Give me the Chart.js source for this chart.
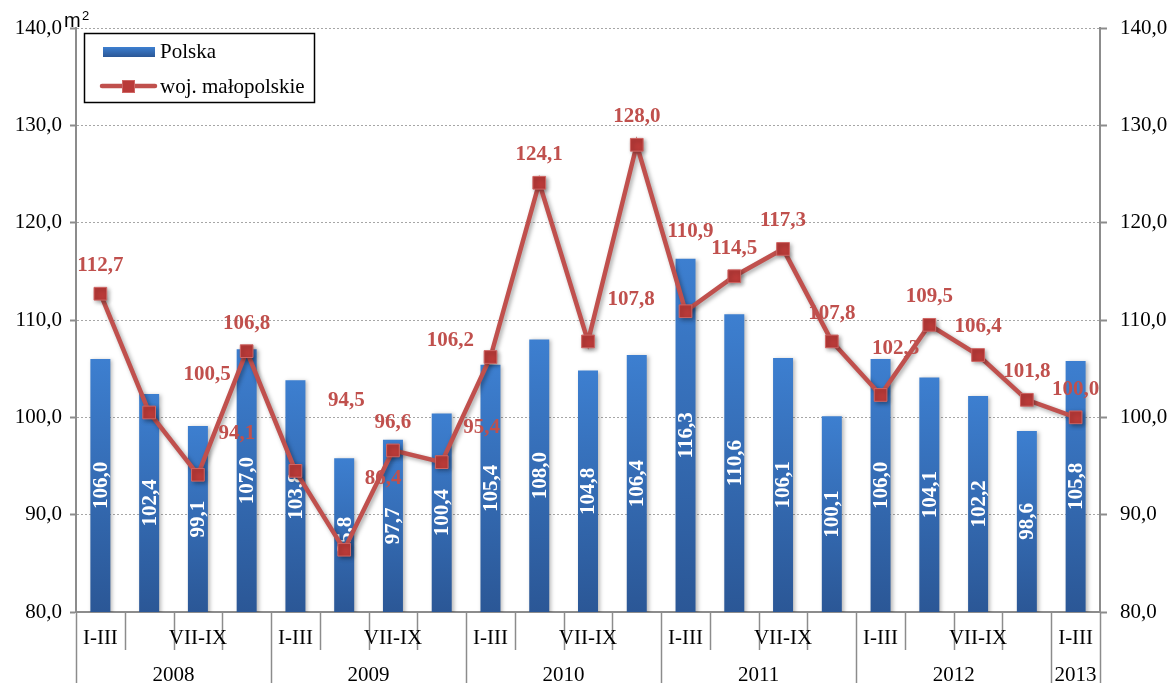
<!DOCTYPE html>
<html lang="pl">
<head>
<meta charset="utf-8">
<title>Przeciętna powierzchnia użytkowa mieszkania</title>
<script src="https://cdn.jsdelivr.net/npm/chart.js@4.4.0/dist/chart.umd.min.js"></script>
<style>
  html, body { margin: 0; padding: 0; background: #fff; }
  #wrap { width: 1175px; height: 683px; }
</style>
</head>
<body>
<div id="wrap"><canvas id="chart" width="1175" height="683"></canvas></div>
<script>
// quarters per year, 2008 I-III .. 2013 I-III
const years = ['2008', '2009', '2010', '2011', '2012', '2013'];
const quartersPerYear = [4, 4, 4, 4, 4, 1];
const quarters = ['I-III', 'IV-VI', 'VII-IX', 'X-XII'];

// average usable floor area, previous year = 100
const polska = [106.0, 102.4, 99.1, 107.0, 103.8, 95.8, 97.7, 100.4, 105.4, 108.0, 104.8,
                106.4, 116.3, 110.6, 106.1, 100.1, 106.0, 104.1, 102.2, 98.6, 105.8];
const malopolska = [112.7, 100.5, 94.1, 106.8, 94.5, 86.4, 96.6, 95.4, 106.2, 124.1, 107.8,
                    128.0, 110.9, 114.5, 117.3, 107.8, 102.3, 109.5, 106.4, 101.8, 100.0];

const yMin = 80, yMax = 140, yStep = 10;

const categories = [];
years.forEach((yr, k) => {
  for (let q = 0; q < quartersPerYear[k]; q++) categories.push(quarters[q] + ' ' + yr);
});

const SERIF = '"Liberation Serif", "Times New Roman", serif';
const RED = '#c0504d';
const AXIS = '#8c8c8c';
const LINE_DS = 0, BAR_DS = 1;
const fmt = v => v.toFixed(1).replace('.', ',');

// hand-placed value labels on the regional line (dx, dy from the point)
const lineLabelShift = {
  1: [58, -38], 2: [39, -41], 4: [51, -70], 5: [39, -71], 7: [40, -35],
  8: [-40, -16], 10: [43, -42], 12: [5, -80], 16: [15, -46]
};

function barFill(c) {
  const chart = c.chart;
  const area = chart.chartArea;
  if (!area || c.type !== 'data') return '#3a77c4';
  const top = chart.scales.y.getPixelForValue(c.raw);
  if (!isFinite(top)) return '#3a77c4';
  const g = chart.ctx.createLinearGradient(0, top, 0, area.bottom);
  g.addColorStop(0, '#3d7fd0');
  g.addColorStop(1, '#2b5796');
  return g;
}

// values written upright in the middle of each bar
function drawBarValues(chart) {
  const c = chart.ctx;
  const xs = chart.scales.x;
  const ys = chart.scales.y;
  const base = ys.getPixelForValue(yMin);
  c.save();
  c.font = 'bold 21px ' + SERIF;
  c.fillStyle = '#ffffff';
  c.textAlign = 'center';
  c.textBaseline = 'middle';
  polska.forEach((v, i) => {
    const cx = xs.getPixelForValue(i) + 1;
    const cy = (ys.getPixelForValue(v) + base) / 2;
    c.setTransform(0, -1, 1, 0, cx, cy);
    c.fillText(fmt(v), 0, 0);
  });
  c.setTransform(1, 0, 0, 1, 0, 0);
  c.restore();
}

const shadowsAndLabels = {
  id: 'shadowsAndLabels',
  beforeDatasetDraw(chart, args) {
    const c = chart.ctx;
    c.save();
    c.shadowColor = args.index === BAR_DS ? 'rgba(0,0,0,0.28)' : 'rgba(0,0,0,0.35)';
    c.shadowBlur = 4;
    c.shadowOffsetX = 2;
    c.shadowOffsetY = args.index === BAR_DS ? 1 : 2;
  },
  afterDatasetDraw(chart, args) {
    chart.ctx.restore();
    // bar values go under the line
    if (args.index === BAR_DS) drawBarValues(chart);
  },
  afterDatasetsDraw(chart) {
    const c = chart.ctx;
    const meta = chart.getDatasetMeta(LINE_DS);
    c.save();
    c.font = 'bold 21px ' + SERIF;
    c.fillStyle = RED;
    c.textAlign = 'center';
    c.textBaseline = 'middle';
    meta.data.forEach((el, i) => {
      const s = lineLabelShift[i] || [0, -28];
      c.fillText(fmt(malopolska[i]), el.x + s[0], el.y + s[1]);
    });
    c.restore();
  }
};

// two-level category axis: quarters and years
const periodAxis = {
  id: 'periodAxis',
  afterDraw(chart) {
    const c = chart.ctx;
    const x = chart.scales.x;
    const base = chart.chartArea.bottom;
    const step = x.getPixelForValue(1) - x.getPixelForValue(0);
    const edge = i => x.getPixelForValue(i) - step / 2;
    const yearStart = new Set();
    let n = 0;
    quartersPerYear.forEach(q => { yearStart.add(n); n += q; });
    yearStart.add(n);

    c.save();
    c.strokeStyle = AXIS;
    c.lineWidth = 1.5;
    for (let i = 0; i <= categories.length; i++) {
      const bx = Math.round(edge(i)) + 0.5;
      c.beginPath();
      c.moveTo(bx, base);
      c.lineTo(bx, yearStart.has(i) ? chart.height : base + 38);
      c.stroke();
    }
    c.font = '21px ' + SERIF;
    c.fillStyle = '#000';
    c.textAlign = 'center';
    c.textBaseline = 'middle';
    n = 0;
    years.forEach((yr, k) => {
      for (let q = 0; q < quartersPerYear[k]; q++) {
        if (q % 2 === 0) c.fillText(quarters[q], x.getPixelForValue(n + q), base + 26);
      }
      const mid = (edge(n) + edge(n + quartersPerYear[k])) / 2;
      c.fillText(yr, mid, base + 63);
      n += quartersPerYear[k];
    });
    c.restore();
  }
};

const legendBox = {
  id: 'legendBox',
  afterDraw(chart) {
    const c = chart.ctx;
    c.save();
    c.fillStyle = '#fff';
    c.fillRect(84, 33, 231, 70);
    c.strokeStyle = '#000';
    c.lineWidth = 1.5;
    c.strokeRect(84.5, 33.5, 230, 69);

    const g = c.createLinearGradient(0, 47, 0, 57);
    g.addColorStop(0, '#3d7fd0');
    g.addColorStop(1, '#2b5796');
    c.fillStyle = g;
    c.fillRect(103, 47, 52, 10);

    c.strokeStyle = RED;
    c.lineWidth = 4.5;
    c.lineCap = 'round';
    c.beginPath();
    c.moveTo(102, 86);
    c.lineTo(155, 86);
    c.stroke();
    c.fillStyle = '#b93a38';
    c.fillRect(122, 80, 13, 13);
    c.strokeStyle = '#cf6664';
    c.lineWidth = 1;
    c.strokeRect(122.5, 80.5, 12, 12);

    c.font = '21px ' + SERIF;
    c.fillStyle = '#000';
    c.textBaseline = 'middle';
    c.fillText('Polska', 160, 52);
    c.fillText('woj. małopolskie', 160, 87);

    // unit above the left axis
    c.textBaseline = 'alphabetic';
    c.font = '20px "Liberation Sans", Arial, sans-serif';
    c.fillText('m', 64, 27);
    c.font = '13px "Liberation Sans", Arial, sans-serif';
    c.fillText('2', 82, 20);
    c.restore();
  }
};

const valueTicks = (side) => ({
  position: side,
  min: yMin,
  max: yMax,
  ticks: {
    stepSize: yStep,
    callback: v => fmt(v),
    font: { family: SERIF, size: 21 },
    color: '#000',
    padding: side === 'left' ? 8 : 13
  },
  grid: {
    drawOnChartArea: side === 'left',
    color: '#a6a6a6',
    lineWidth: 1,
    tickColor: AXIS,
    tickWidth: 2,
    tickLength: side === 'left' ? 6 : 7
  },
  border: { color: AXIS, width: 2, dash: [2, 2] },
  afterFit: s => { s.width = side === 'left' ? 76 : 75; }
});

new Chart(document.getElementById('chart'), {
  type: 'bar',
  data: {
    labels: categories,
    datasets: [
      {
        type: 'line',
        label: 'woj. małopolskie',
        data: malopolska,
        order: 0,
        borderColor: RED,
        borderWidth: 4.5,
        tension: 0,
        pointStyle: 'rect',
        pointRadius: 9,
        pointBackgroundColor: '#b93a38',
        pointBorderColor: '#cf6664',
        pointBorderWidth: 1,
        yAxisID: 'y'
      },
      {
        type: 'bar',
        label: 'Polska',
        data: polska,
        order: 1,
        backgroundColor: barFill,
        barPercentage: 0.41,
        categoryPercentage: 1,
        yAxisID: 'y'
      }
    ]
  },
  options: {
    responsive: false,
    animation: false,
    layout: { padding: { top: 28, left: 0, right: 0, bottom: 0 } },
    plugins: { legend: { display: false }, tooltip: { enabled: false } },
    scales: {
      x: {
        grid: { display: false },
        ticks: { display: false },
        border: { color: AXIS, width: 2 },
        afterFit: s => { s.height = 71; }
      },
      y: valueTicks('left'),
      y1: valueTicks('right')
    }
  },
  plugins: [shadowsAndLabels, periodAxis, legendBox]
});
</script>
</body>
</html>
